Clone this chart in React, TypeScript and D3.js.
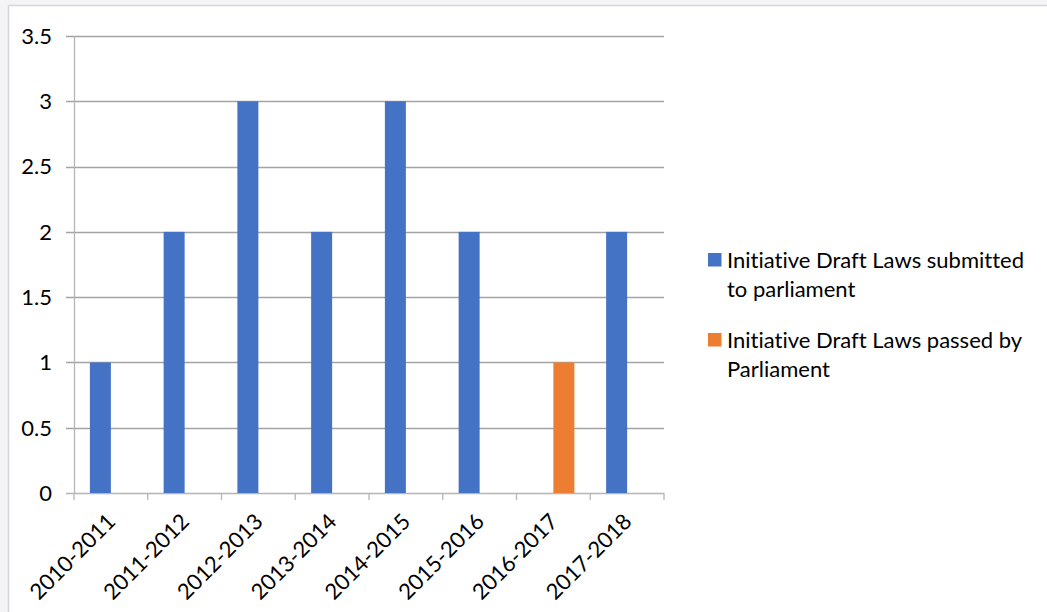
import React from "react";
import * as d3 from "d3";

const categories = ["2010-2011", "2011-2012", "2012-2013", "2013-2014", "2014-2015", "2015-2016", "2016-2017", "2017-2018"];
const submitted = [1, 2, 3, 2, 3, 2, 0, 2];
const passed = [0, 0, 0, 0, 0, 0, 1, 0];
const seriesNames = ["Initiative Draft Laws submitted to parliament", "Initiative Draft Laws passed by Parliament"];
const legendLines = [["Initiative Draft Laws submitted", "to parliament"], ["Initiative Draft Laws passed by", "Parliament"]];
const colors = ["#4472c4", "#ed7d31"];
const yTicks = [0, 0.5, 1, 1.5, 2, 2.5, 3, 3.5];

const W = 1047, H = 612;
const FONT = "Lato, 'Open Sans', sans-serif";
const textStyle = { fontVariantLigatures: "none" as const };

export default function App() {
  const x = d3.scaleBand<string>().domain(categories).range([74, 664]).padding(0);
  const inner = d3.scaleBand<string>().domain(seriesNames).range([0, x.bandwidth()]).paddingInner(0).paddingOuter(0.757);
  const y = d3.scaleLinear().domain([0, 3.5]).range([493, 36]);
  const seriesValues = [submitted, passed];

  return (
    <svg width={W} height={H} style={{ position: "absolute", left: 0, top: 0, display: "block" }}>
      <rect x={0} y={0} width={W} height={H} fill="#f4f4f6" />
      <rect x={8.5} y={5.5} width={W} height={H} fill="#ffffff" stroke="#d6d6d8" strokeWidth={1.5} />
      {/* gridlines */}
      {yTicks.map((t) => (
        <line key={"g" + t} x1={66} x2={664} y1={Math.round(y(t)) + 0.5} y2={Math.round(y(t)) + 0.5}
          stroke={t === 0 ? "#b5b5b5" : "#a3a3a3"} strokeWidth={1.3} />
      ))}
      {/* y axis */}
      <line x1={74.5} x2={74.5} y1={y(3.5)} y2={y(0)} stroke="#b5b5b5" strokeWidth={1.3} />
      {/* x ticks */}
      {d3.range(categories.length + 1).map((i) => {
        const xp = 74 + i * x.step();
        return <line key={"t" + i} x1={xp} x2={xp} y1={493} y2={500} stroke="#b5b5b5" strokeWidth={1.3} />;
      })}
      {/* bars */}
      {seriesValues.map((vals, si) =>
        vals.map((v, i) =>
          v > 0 ? (
            <rect key={si + "-" + i} x={(x(categories[i]) as number) + (inner(seriesNames[si]) as number)}
              y={y(v)} width={inner.bandwidth()} height={y(0) - y(v)} fill={colors[si]} />
          ) : null
        )
      )}
      {/* y labels */}
      {yTicks.map((t) => (
        <text key={"l" + t} x={52} y={y(t)} dy="0.36em" textAnchor="end" fontFamily={FONT} fontSize={22} fill="#000" style={textStyle}>
          {String(t)}
        </text>
      ))}
      {/* x labels */}
      {categories.map((c) => {
        const cx = (x(c) as number) + x.bandwidth() / 2 + 6;
        const cy = 523;
        return (
          <text key={c} transform={`translate(${cx},${cy}) rotate(-45)`} textAnchor="end"
            fontFamily={FONT} fontSize={22} fill="#000" style={textStyle}>
            {c}
          </text>
        );
      })}
      {/* legend */}
      {legendLines.map((lines, li) => {
        const top = 253 + li * 80;
        return (
          <g key={"lg" + li}>
            <rect x={708} y={top} width={13.5} height={13.5} fill={colors[li]} />
            {lines.map((ln, k) => (
              <text key={k} x={727} y={top + 14.5 + k * 29.5} fontFamily={FONT} fontSize={22} fill="#000" style={textStyle}>
                {ln}
              </text>
            ))}
          </g>
        );
      })}
    </svg>
  );
}
